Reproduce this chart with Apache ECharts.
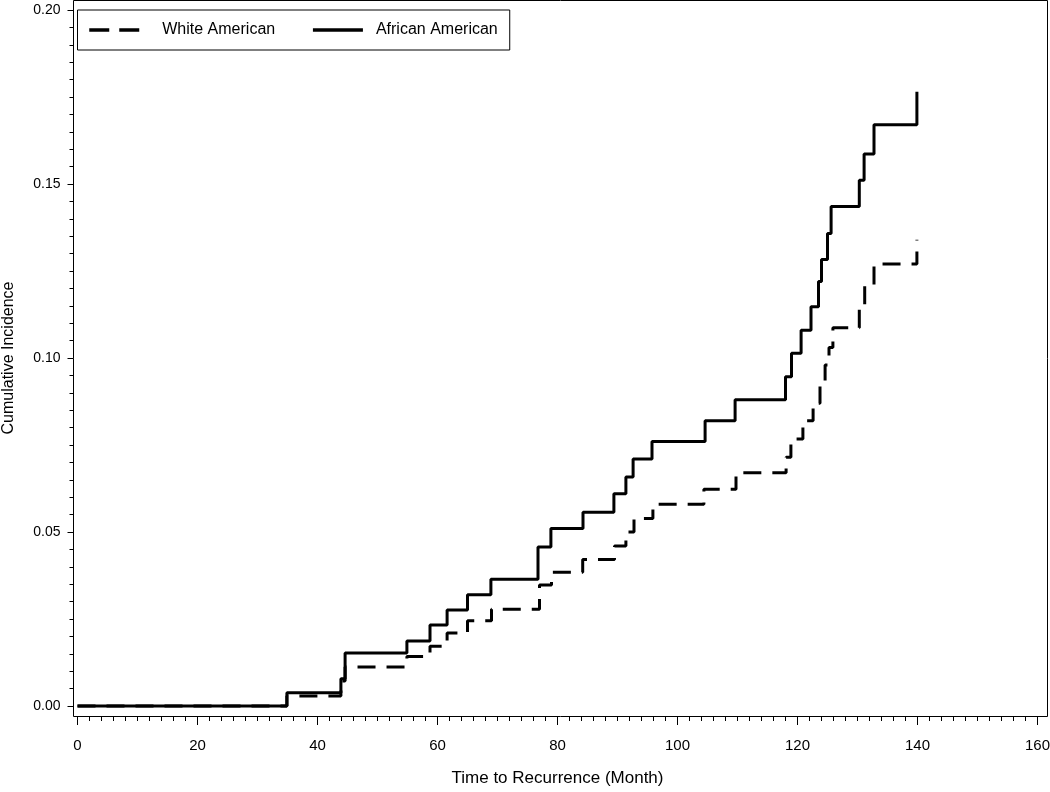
<!DOCTYPE html>
<html>
<head>
<meta charset="utf-8">
<script src="https://cdn.jsdelivr.net/npm/echarts@6/dist/echarts.min.js"></script>
<style>
  html, body { margin: 0; padding: 0; background: #fff; }
  #chart { width: 1050px; height: 792px; }
</style>
</head>
<body>
<div id="chart"></div>
<script>
// ---- data ----
const seriesNames = ['White American', 'African American'];

const monthsWhite = [0, 34.9, 43.9, 44.6, 54.9, 58.75, 61.6, 65.0, 69.0, 77.0, 79.0, 84.2, 89.5, 91.4, 92.75, 95.9, 104.4, 109.75, 118.1, 118.9, 120.9, 122.6, 123.75, 124.6, 125.25, 125.9, 130.3, 131.2, 132.75, 139.9];
const incidenceWhite = [0, 0.0029, 0.0072, 0.0112, 0.0142, 0.0172, 0.021, 0.0245, 0.0278, 0.0348, 0.0384, 0.0421, 0.046, 0.050, 0.0539, 0.058, 0.0623, 0.067, 0.0715, 0.0767, 0.082, 0.087, 0.093, 0.098, 0.103, 0.1087, 0.115, 0.121, 0.127, 0.134];

const monthsAfrican = [0, 34.9, 43.9, 44.6, 54.9, 58.75, 61.6, 65.0, 68.9, 76.75, 78.9, 84.25, 89.4, 91.4, 92.6, 95.75, 104.6, 109.6, 118.0, 119.0, 120.6, 122.25, 123.5, 124.0, 125.0, 125.6, 130.3, 131.1, 132.75, 139.9];
const incidenceAfrican = [0, 0.0038, 0.0078, 0.0152, 0.0187, 0.0233, 0.0276, 0.032, 0.0364, 0.0457, 0.051, 0.0557, 0.061, 0.0658, 0.071, 0.076, 0.082, 0.088, 0.0946, 0.1014, 0.108, 0.1147, 0.122, 0.1283, 0.1358, 0.1435, 0.1511, 0.1586, 0.167, 0.1765];

const xTickLabels = ['0', '20', '40', '60', '80', '100', '120', '140', '160'];
const yTickLabels = ['0.00', '0.05', '0.10', '0.15', '0.20'];

const xTitle = 'Time to Recurrence (Month)';
const yTitle = 'Cumulative Incidence';

// ---- chart ----
const chart = echarts.init(document.getElementById('chart'), null, { renderer: 'canvas' });

const W = 1050, H = 792;
const gridLeft = 77.5, gridRight = 12.5, gridTop = 10, gridBottom = 86;
const frameLeft = 73.5, frameTop = 0.5, frameRight = 1047.5, frameBottom = 716.5;
const xMin = 0, xMax = 160, xStep = 20;
const yMin = 0, yMax = 0.2, yStep = 0.05;

const toPairs = (xs, ys) => xs.map((x, i) => [x, ys[i]]);
const font = 'Liberation Sans, Arial, sans-serif';

const option = {
  animation: false,
  backgroundColor: '#ffffff',
  grid: [
    // 0: plot area (data)
    { left: gridLeft, right: gridRight, top: gridTop, bottom: gridBottom, containLabel: false, outerBoundsMode: 'none' },
    // 1: strip along the bottom frame edge for the x axis ticks/labels
    { left: gridLeft, right: gridRight, top: frameBottom - 1.5, bottom: H - frameBottom + 0.5, containLabel: false, outerBoundsMode: 'none' },
    // 2: strip along the left frame edge for the y axis ticks/labels
    { left: frameLeft, width: 1, top: gridTop, bottom: gridBottom, containLabel: false, outerBoundsMode: 'none' }
  ],
  graphic: [{
    type: 'rect',
    shape: { x: frameLeft, y: frameTop, width: frameRight - frameLeft, height: frameBottom - frameTop },
    style: { fill: null, stroke: '#000', lineWidth: 1 },
    silent: true,
    z: 0
  }],
  legend: {
    left: gridLeft,
    top: 10,
    orient: 'horizontal',
    padding: [12, 12, 12, 10],
    itemWidth: 50,
    itemHeight: 14,
    itemGap: 36,
    borderColor: '#000',
    borderWidth: 1,
    backgroundColor: '#fff',
    itemStyle: { opacity: 0, borderWidth: 0 },
    textStyle: { fontFamily: font, fontSize: 16, color: '#000' },
    data: [
      {
        name: seriesNames[0],
        lineStyle: { color: '#000', width: 3.5, type: [20, 10], cap: 'butt' },
        itemStyle: { opacity: 0 },
        textStyle: { padding: [0, 0, 0, 18] }
      },
      {
        name: seriesNames[1],
        lineStyle: { color: '#000', width: 3.5, type: 'solid' },
        itemStyle: { opacity: 0 },
        textStyle: { padding: [0, 0, 0, 8] }
      }
    ]
  },
  xAxis: [
    { gridIndex: 0, type: 'value', min: xMin, max: xMax, show: false },
    {
      gridIndex: 1,
      type: 'value',
      position: 'bottom',
      min: xMin,
      max: xMax,
      interval: xStep,
      axisLine: { show: false },
      axisTick: { show: true, length: 9, inside: false, lineStyle: { color: '#000', width: 1 } },
      minorTick: { show: true, splitNumber: 10, length: 5, lineStyle: { color: '#000', width: 1 } },
      splitLine: { show: false },
      minorSplitLine: { show: false },
      axisLabel: {
        margin: 22,
        color: '#000',
        fontFamily: font,
        fontSize: 15,
        formatter: (v) => xTickLabels[Math.round(v / xStep)]
      },
      name: xTitle,
      nameLocation: 'middle',
      nameGap: 54,
      nameTextStyle: { color: '#000', fontFamily: font, fontSize: 17 }
    },
    { gridIndex: 2, type: 'value', show: false }
  ],
  yAxis: [
    { gridIndex: 0, type: 'value', min: yMin, max: yMax, show: false },
    { gridIndex: 1, type: 'value', show: false },
    {
      gridIndex: 2,
      type: 'value',
      position: 'left',
      min: yMin,
      max: yMax,
      interval: yStep,
      axisLine: { show: false },
      axisTick: { show: true, length: 6, lineStyle: { color: '#000', width: 1 } },
      minorTick: { show: true, splitNumber: 10, length: 4, lineStyle: { color: '#000', width: 1 } },
      splitLine: { show: false },
      minorSplitLine: { show: false },
      axisLabel: {
        margin: 13,
        color: '#000',
        fontFamily: font,
        fontSize: 14,
        formatter: (v) => yTickLabels[Math.round(v / yStep)]
      },
      name: yTitle,
      nameLocation: 'middle',
      nameGap: 57,
      nameRotate: 90,
      nameTextStyle: { color: '#000', fontFamily: font, fontSize: 16 }
    }
  ],
  series: [
    {
      name: seriesNames[0],
      type: 'line',
      xAxisIndex: 0,
      yAxisIndex: 0,
      step: 'end',
      symbol: 'none',
      showSymbol: false,
      clip: false,
      data: toPairs(monthsWhite, incidenceWhite),
      lineStyle: { color: '#000', width: 3, type: [18, 11], cap: 'butt' },
      itemStyle: { color: '#000' },
      z: 2
    },
    {
      name: seriesNames[1],
      type: 'line',
      xAxisIndex: 0,
      yAxisIndex: 0,
      step: 'end',
      symbol: 'none',
      showSymbol: false,
      clip: false,
      data: toPairs(monthsAfrican, incidenceAfrican),
      lineStyle: { color: '#000', width: 3, type: 'solid' },
      itemStyle: { color: '#000' },
      z: 3
    }
  ]
};

chart.setOption(option);
</script>
</body>
</html>
